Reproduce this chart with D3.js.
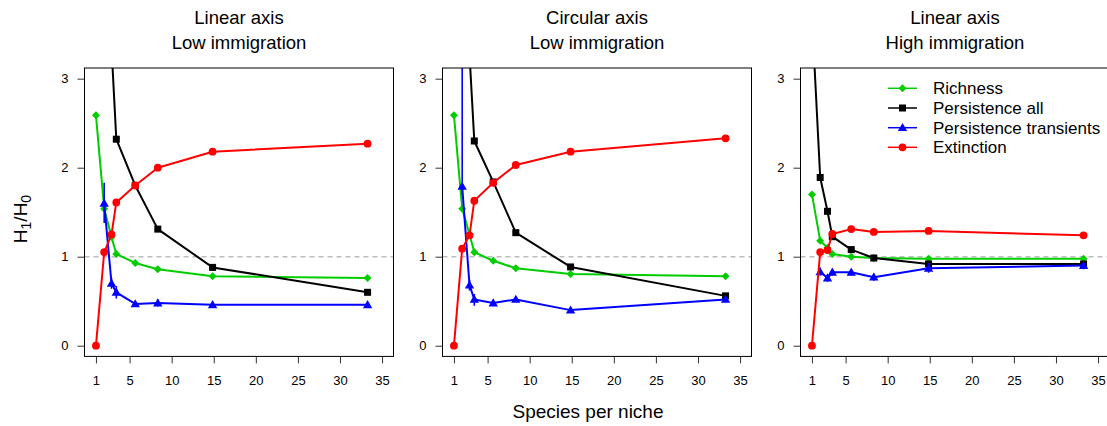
<!DOCTYPE html>
<html>
<head>
<meta charset="utf-8">
<script src="https://cdn.jsdelivr.net/npm/d3@7"></script>
<style>
  html, body { margin: 0; padding: 0; background: #fff; }
  svg { display: block; }
  text { font-family: "Liberation Sans", Arial, Helvetica, sans-serif; fill: #000; }
</style>
</head>
<body>
<svg id="chart" width="1107" height="426"></svg>
<script>
// Species per niche (x values shared by all panels)
const speciesPerNiche = [1, 1.98, 2.85, 3.42, 5.67, 8.35, 14.86, 33.28];
const xTicks = [1, 5, 10, 15, 20, 25, 30, 35];
const yTicks = [0, 1, 2, 3];

const panelTitles = [
  ["Linear axis", "Low immigration"],
  ["Circular axis", "Low immigration"],
  ["Linear axis", "High immigration"]
];

const seriesNames = ["Richness", "Persistence all", "Persistence transients", "Extinction"];
const seriesColors = ["#00cd00", "#000000", "#0000ff", "#ff0000"];

// Panel 1: linear axis, low immigration
const richness1 = [2.59, 1.54, 1.22, 1.03, 0.93, 0.86, 0.78, 0.76];
const persistAll1 = [8.5, 5.2, 3.35, 2.32, 1.80, 1.31, 0.88, 0.60];
const transients1 = [null, 1.60, 0.70, 0.60, 0.47, 0.48, 0.46, 0.46];
const transientsLo1 = [null, 1.38, 0.64, 0.53, 0.44, 0.44, 0.44, 0.45];
const transientsHi1 = [null, 1.83, 0.76, 0.67, 0.50, 0.52, 0.49, 0.48];
const extinction1 = [0, 1.05, 1.25, 1.61, 1.80, 2.00, 2.18, 2.27];

// Panel 2: circular axis, low immigration
const richness2 = [2.59, 1.54, 1.25, 1.05, 0.955, 0.87, 0.805, 0.78];
const persistAll2 = [9.0, 5.0, 3.27, 2.30, 1.84, 1.27, 0.885, 0.56];
const transients2 = [null, 1.79, 0.68, 0.52, 0.48, 0.52, 0.40, 0.52];
const transientsLo2 = [null, 1.70, 0.62, 0.45, 0.45, 0.49, 0.38, 0.49];
const transientsHi2 = [null, 4.50, 0.74, 0.58, 0.51, 0.55, 0.42, 0.55];
const extinction2 = [0, 1.09, 1.24, 1.63, 1.83, 2.03, 2.18, 2.33];

// Panel 3: linear axis, high immigration
const richness3 = [1.70, 1.18, 1.10, 1.03, 1.00, 0.985, 0.977, 0.977];
const persistAll3 = [3.71, 1.89, 1.51, 1.225, 1.08, 0.985, 0.918, 0.918];
const transients3 = [null, 0.83, 0.76, 0.825, 0.825, 0.77, 0.87, 0.90];
const transientsLo3 = [null, 0.79, 0.72, 0.79, 0.79, 0.73, 0.82, 0.86];
const transientsHi3 = [null, 0.88, 0.80, 0.85, 0.85, 0.81, 0.93, 0.93];
const extinction3 = [0, 1.05, 1.075, 1.255, 1.31, 1.278, 1.29, 1.24];

const panels = [
  { series: [richness1, persistAll1, transients1, extinction1], lo: transientsLo1, hi: transientsHi1 },
  { series: [richness2, persistAll2, transients2, extinction2], lo: transientsLo2, hi: transientsHi2 },
  { series: [richness3, persistAll3, transients3, extinction3], lo: transientsLo3, hi: transientsHi3 }
];

// layout
const boxLefts = [84.5, 442.5, 800.5];
const boxWidth = 309;
const boxTop = 68, boxBottom = 356.4;
const svg = d3.select("#chart");

const y = d3.scaleLinear().domain([-0.12, 3.12]).range([boxBottom, boxTop]);

// marker shapes
function marker(g, k, cx, cy, color) {
  if (k === 0) { // diamond
    const r = 4;
    g.append("path").attr("d", `M${cx},${cy - r}L${cx + r},${cy}L${cx},${cy + r}L${cx - r},${cy}Z`).attr("fill", color);
  } else if (k === 1) { // square
    const s = 7;
    g.append("rect").attr("x", cx - s / 2).attr("y", cy - s / 2).attr("width", s).attr("height", s).attr("fill", color);
  } else if (k === 2) { // triangle
    g.append("path").attr("d", d3.symbol(d3.symbolTriangle, 38)()).attr("transform", `translate(${cx},${cy + 0.7})`).attr("fill", color);
  } else { // circle
    g.append("circle").attr("cx", cx).attr("cy", cy).attr("r", 3.9).attr("fill", color);
  }
}

panels.forEach((p, i) => {
  const left = boxLefts[i];
  const x = d3.scaleLinear().domain([1 - 1.36, 35 + 1.36]).range([left, left + boxWidth]);
  const g = svg.append("g");

  // clip for plot region
  const clipId = "clip" + i;
  svg.append("clipPath").attr("id", clipId)
    .append("rect").attr("x", left).attr("y", boxTop).attr("width", boxWidth).attr("height", boxBottom - boxTop);

  // titles
  const cx = left + boxWidth / 2;
  g.append("text").attr("x", cx).attr("y", 24).attr("text-anchor", "middle").attr("font-size", 18.5).text(panelTitles[i][0]);
  g.append("text").attr("x", cx).attr("y", 49).attr("text-anchor", "middle").attr("font-size", 18.5).text(panelTitles[i][1]);

  // axes
  const xAxis = d3.axisBottom(x).tickValues(xTicks).tickFormat(d3.format("d")).tickSize(7).tickPadding(12);
  const gx = g.append("g").attr("transform", `translate(0,${boxBottom})`).call(xAxis);
  gx.select(".domain").remove();
  gx.selectAll("line").attr("stroke", "#333");
  gx.selectAll("text").attr("font-size", 13).attr("font-family", "Liberation Sans, Arial, sans-serif").attr("fill", "#222");

  const yAxis = d3.axisLeft(y).tickValues(yTicks).tickFormat(d3.format("d")).tickSize(7).tickPadding(9);
  const gy = g.append("g").attr("transform", `translate(${left},0)`).call(yAxis);
  gy.select(".domain").remove();
  gy.selectAll("line").attr("stroke", "#333");
  gy.selectAll("text").attr("font-size", 13).attr("font-family", "Liberation Sans, Arial, sans-serif").attr("fill", "#222");

  // reference line at 1
  g.append("line").attr("x1", left).attr("x2", left + boxWidth).attr("y1", y(1)).attr("y2", y(1))
    .attr("stroke", "#bdbdbd").attr("stroke-width", 1.4).attr("stroke-dasharray", "5,4");

  const plot = g.append("g").attr("clip-path", `url(#${clipId})`);
  const line = d3.line().defined(d => d[1] !== null).x(d => x(d[0])).y(d => y(d[1]));

  // draw order: richness, persistence all, transients, extinction
  [0, 1, 2, 3].forEach(k => {
    const vals = p.series[k];
    const pts = speciesPerNiche.map((s, j) => [s, vals[j]]).filter(d => d[1] !== null);
    const color = seriesColors[k];
    plot.append("path").datum(pts).attr("d", line).attr("fill", "none")
      .attr("stroke", color).attr("stroke-width", 2).attr("stroke-linejoin", "round");
    if (k === 2) {
      speciesPerNiche.forEach((s, j) => {
        if (p.lo[j] === null) return;
        plot.append("line").attr("x1", x(s)).attr("x2", x(s)).attr("y1", y(p.lo[j])).attr("y2", y(p.hi[j]))
          .attr("stroke", color).attr("stroke-width", 1.6);
      });
    }
    pts.forEach(d => marker(plot, k, x(d[0]), y(d[1]), color));
  });

  // box
  g.append("rect").attr("x", left).attr("y", boxTop).attr("width", boxWidth).attr("height", boxBottom - boxTop)
    .attr("fill", "none").attr("stroke", "#000").attr("stroke-width", 1);
});

// legend in the third panel
const legend = svg.append("g");
const legRows = [88.3, 108.0, 127.7, 147.3];
seriesNames.forEach((name, k) => {
  const yy = legRows[k];
  legend.append("line").attr("x1", 888).attr("x2", 917).attr("y1", yy).attr("y2", yy)
    .attr("stroke", seriesColors[k]).attr("stroke-width", 1.5);
  marker(legend, k, 902.5, yy, seriesColors[k]);
  legend.append("text").attr("x", 933).attr("y", yy + 6).attr("font-size", 17).text(name);
});

// shared axis labels
svg.append("text").attr("x", 588).attr("y", 418).attr("text-anchor", "middle").attr("font-size", 19).text("Species per niche");

const ylab = svg.append("text").attr("transform", "translate(27,219) rotate(-90)").attr("text-anchor", "middle").attr("font-size", 19);
ylab.append("tspan").text("H");
ylab.append("tspan").attr("font-size", 14).attr("dy", 4).text("1");
ylab.append("tspan").attr("dy", -4).text("/H");
ylab.append("tspan").attr("font-size", 14).attr("dy", 4).text("0");
</script>
</body>
</html>
